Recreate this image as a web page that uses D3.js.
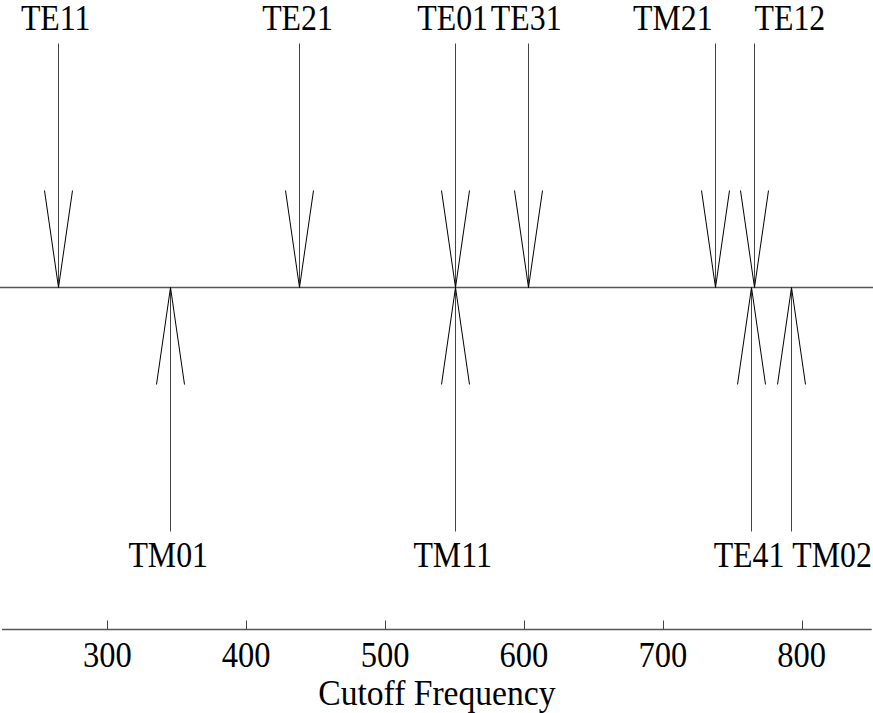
<!DOCTYPE html>
<html>
<head>
<meta charset="utf-8">
<script src="https://cdn.jsdelivr.net/npm/d3@7"></script>
<style>
  body { margin: 0; background: #fff; }
  svg text { font-family: "Liberation Serif", "Times New Roman", serif; fill: #000; font-size: 35px; }
</style>
</head>
<body>
<div id="chart"></div>
<script>
// cutoff frequencies
var upperModes = ["TE11", "TE21", "TE01", "TE31", "TM21", "TE12"];
var upperFc = [264.3, 438.4, 550.1, 603.1, 737.3, 765.3];
var lowerModes = ["TM01", "TM11", "TE41", "TM02"];
var lowerFc = [345.3, 550.1, 763.5, 792.5];
var tickValues = [300, 400, 500, 600, 700, 800];

var width = 873, height = 713;
var baseY = 287.5, axisY = 629.5;

// labels that got pushed aside so they don't collide
var labelAnchor = {"TM21": "end", "TE12": "start", "TM02": "start"};

var svg = d3.select("#chart")
	.append("svg")
	.attr("width", width)
	.attr("height", height);

var x = d3.scaleLinear()
	.domain([224.2, 850.4])
	.range([2, 871.7]);

// text is a bit narrow in the original
function placeText(sel, tx, ty, sx) {
	sel.attr("transform", function(d) {
		var px = typeof tx === "function" ? tx(d) : tx;
		return "translate(" + px + "," + ty + ") scale(" + sx + ",1)";
	});
}

// baseline
svg.append("line")
	.attr("x1", 0).attr("x2", width)
	.attr("y1", baseY).attr("y2", baseY)
	.style("stroke", "#555")
	.style("stroke-width", 1.3);

function drawArrows(modes, fc, dir) {
	// dir = -1 above the line, +1 below
	var data = modes.map(function(m, i) { return {mode: m, fc: fc[i]}; });
	var g = svg.append("g").selectAll("g")
		.data(data)
		.enter().append("g");

	g.append("line")
		.attr("x1", function(d) { return Math.round(x(d.fc)) + 0.5; })
		.attr("x2", function(d) { return Math.round(x(d.fc)) + 0.5; })
		.attr("y1", baseY)
		.attr("y2", baseY + dir * 244)
		.style("stroke", "#444")
		.style("stroke-width", 1);

	g.append("path")
		.attr("d", function(d) {
			var cx = Math.round(x(d.fc)) + 0.5;
			return "M" + (cx - 14) + "," + (baseY + dir * 97) +
				"L" + cx + "," + baseY +
				"L" + (cx + 14) + "," + (baseY + dir * 97);
		})
		.style("fill", "none")
		.style("stroke", "#000")
		.style("stroke-width", 1);

	var t = g.append("text")
		.attr("text-anchor", function(d) { return labelAnchor[d.mode] || "middle"; })
		.text(function(d) { return d.mode; });
	placeText(t, function(d) {
		var a = labelAnchor[d.mode];
		return x(d.fc) + (a === "end" ? -2 : a === "start" ? 1 : -2);
	}, dir < 0 ? 30 : 567, 0.91);
}

drawArrows(upperModes, upperFc, -1);
drawArrows(lowerModes, lowerFc, 1);

// frequency axis
var axis = svg.append("g")
	.attr("transform", "translate(0," + axisY + ")");

axis.append("line")
	.attr("x1", x.range()[0]).attr("x2", x.range()[1])
	.attr("y1", 0).attr("y2", 0)
	.style("stroke", "#555")
	.style("stroke-width", 1.3);

axis.selectAll(".tick")
	.data(tickValues)
	.enter().append("line")
	.attr("class", "tick")
	.attr("x1", function(d) { return Math.round(x(d)) + 0.5; })
	.attr("x2", function(d) { return Math.round(x(d)) + 0.5; })
	.attr("y1", 0).attr("y2", -9)
	.style("stroke", "#444");

var tl = axis.selectAll(".ticklabel")
	.data(tickValues)
	.enter().append("text")
	.attr("class", "ticklabel")
	.attr("text-anchor", "middle")
	.text(function(d) { return d; });
placeText(tl, function(d) { return x(d); }, 37, 0.93);

var title = svg.append("text")
	.attr("text-anchor", "middle")
	.text("Cutoff Frequency");
placeText(title, (x.range()[0] + x.range()[1]) / 2, 705, 0.96);
</script>
</body>
</html>
